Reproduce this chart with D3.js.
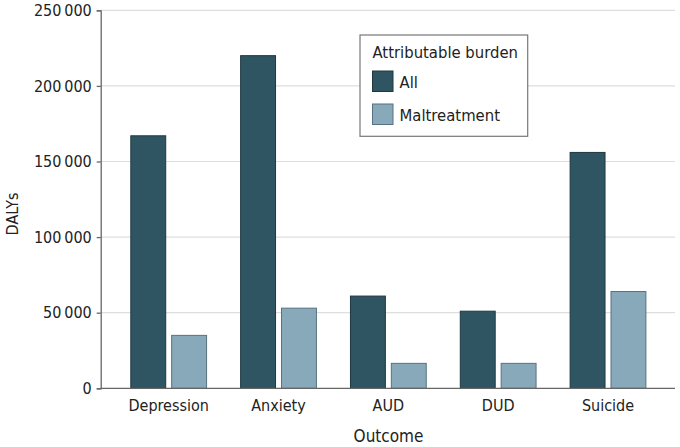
<!DOCTYPE html>
<html lang="en">
<head>
    <meta charset="UTF-8">
    <title>DALYs by outcome</title>
    <script src="https://cdn.jsdelivr.net/npm/d3@7"></script>
    <style>
        body { margin: 0; background: #fff; }
        svg text { font-family: "DejaVu Sans Condensed", "DejaVu Sans", sans-serif; fill: #222; }
    </style>
</head>
<body>
    <div id="chart"></div>

    <script>
        const outcomes = ["Depression", "Anxiety", "AUD", "DUD", "Suicide"];
        const burdenAll = [167000, 220000, 61000, 51000, 156000];
        const burdenMaltreatment = [35000, 53000, 16500, 16500, 64000];
        const seriesNames = ["All", "Maltreatment"];
        const yTicks = [0, 50000, 100000, 150000, 200000, 250000];

        const width = 680;
        const height = 447;
        const marginTop = 10.3;
        const marginRight = 5;
        const marginBottom = 58.7;
        const marginLeft = 100.7;

        const colors = ["#2f5562", "#87a9b9"];
        const strokes = ["#1e3841", "#56737f"];

        const data = outcomes.map((o, i) => ({
            outcome: o,
            values: [burdenAll[i], burdenMaltreatment[i]]
        }));

        const x = d3.scaleBand()
            .domain(outcomes)
            .range([marginLeft + 1, width - marginRight])
            .paddingInner(0.31)
            .paddingOuter(0.265);

        const xSub = d3.scaleBand()
            .domain(seriesNames)
            .range([0, x.bandwidth()])
            .paddingInner(0.146);

        const y = d3.scaleLinear()
            .domain([0, 250000])
            .range([height - marginBottom, marginTop]);

        const fmt = d => d3.format(",")(d).replace(/,/g, "\u2009");

        const svg = d3.select("#chart").append("svg")
            .attr("width", width)
            .attr("height", height);

        // gridlines
        svg.append("g")
            .selectAll("line")
            .data(yTicks.slice(1))
            .join("line")
            .attr("x1", marginLeft)
            .attr("x2", width - marginRight)
            .attr("y1", d => y(d))
            .attr("y2", d => y(d))
            .attr("stroke", "#dedede")
            .attr("stroke-width", 1.2);

        // bars
        svg.append("g")
            .selectAll("g")
            .data(data)
            .join("g")
            .attr("transform", d => `translate(${x(d.outcome)},0)`)
            .selectAll("rect")
            .data(d => d.values.map((v, i) => ({ key: seriesNames[i], i, v })))
            .join("rect")
            .attr("x", d => xSub(d.key))
            .attr("width", xSub.bandwidth())
            .attr("y", d => y(d.v))
            .attr("height", d => y(0) - y(d.v))
            .attr("fill", d => colors[d.i])
            .attr("stroke", d => strokes[d.i])
            .attr("stroke-width", 1);

        // y axis
        svg.append("g")
            .attr("transform", `translate(${marginLeft},0)`)
            .call(d3.axisLeft(y).tickValues(yTicks).tickFormat(fmt).tickSize(4).tickPadding(5))
            .call(g => g.select(".domain").attr("stroke", "#666").attr("stroke-width", 1.3))
            .call(g => g.selectAll(".tick line").attr("stroke", "#666").attr("stroke-width", 1.3))
            .call(g => g.selectAll(".tick text")
                .attr("font-size", 16)
                .attr("fill", "#222")
                .style("font-family", "'DejaVu Sans Condensed', sans-serif"));

        // x axis
        svg.append("g")
            .attr("transform", `translate(0,${y(0)})`)
            .call(d3.axisBottom(x).tickSize(0).tickPadding(11))
            .call(g => g.select(".domain").attr("stroke", "#666").attr("stroke-width", 1.3)
                .attr("d", `M${marginLeft},0H${width - marginRight}`))
            .call(g => g.selectAll(".tick text")
                .attr("font-size", 16)
                .attr("fill", "#222")
                .style("font-family", "'DejaVu Sans Condensed', sans-serif"));

        // axis titles
        svg.append("text")
            .attr("transform", `translate(18,214) rotate(-90)`)
            .attr("text-anchor", "middle")
            .attr("font-size", 16)
            .text("DALYs");

        svg.append("text")
            .attr("x", 388.5)
            .attr("y", 442)
            .attr("text-anchor", "middle")
            .attr("font-size", 17)
            .text("Outcome");

        // legend
        const legend = svg.append("g")
            .attr("transform", "translate(360,35)");

        legend.append("rect")
            .attr("width", 167.7)
            .attr("height", 101.3)
            .attr("fill", "#fff")
            .attr("stroke", "#777")
            .attr("stroke-width", 1.2);

        legend.append("text")
            .attr("x", 12.5)
            .attr("y", 23)
            .attr("font-size", 16.5)
            .text("Attributable burden");

        const item = legend.selectAll(".item")
            .data(seriesNames)
            .join("g")
            .attr("class", "item")
            .attr("transform", (d, i) => `translate(12.5,${36 + i * 33})`);

        item.append("rect")
            .attr("width", 20.5)
            .attr("height", 20.5)
            .attr("fill", (d, i) => colors[i])
            .attr("stroke", (d, i) => strokes[i]);

        item.append("text")
            .attr("x", 27)
            .attr("y", 17)
            .attr("font-size", 16.5)
            .text(d => d);
    </script>
</body>
</html>
